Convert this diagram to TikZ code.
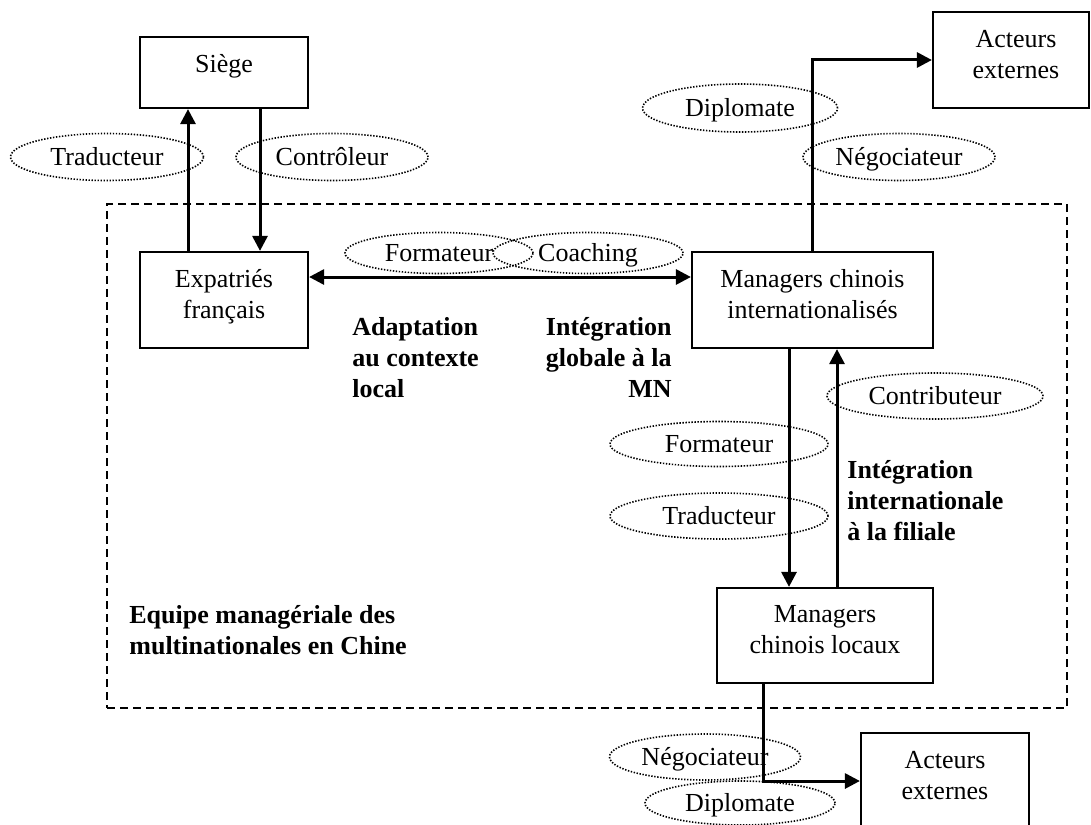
\documentclass[tikz,border=0pt]{standalone}
\usepackage{fontspec}
\setmainfont{Liberation Serif}
\usetikzlibrary{arrows.meta,shapes.geometric}
\begin{document}
\begin{tikzpicture}[x=0.5pt,y=-0.5pt,
  box/.style={draw, line width=1.1pt, inner sep=0pt, rectangle},
  boxtext/.style={anchor=north, align=center, inner sep=0pt, font=\fontsize{13pt}{15.5pt}\selectfont},
  role/.style={ellipse, draw, line width=0.8pt, dash pattern=on 0.7pt off 0.8pt, inner sep=0pt, text height=8.85pt, text depth=0pt, font=\fontsize{13pt}{15.5pt}\selectfont},
  note/.style={inner sep=0pt, font=\fontsize{13pt}{15.5pt}\selectfont\bfseries},
  arr/.style={line width=1.5pt, -{Triangle[length=7.5pt,width=7.5pt]}},
  dbl/.style={line width=1.5pt, {Triangle[length=7.5pt,width=7.5pt]}-{Triangle[length=7.5pt,width=7.5pt]}},
  team/.style={draw, line width=1.1pt, dash pattern=on 4pt off 2.5pt, inner sep=0pt}
]
\useasboundingbox (0,0) rectangle (1091,824);

% dashed team frame
\node[team, minimum width=480pt, minimum height=252pt] (team) at (587,456) {};

% boxes
\node[box, minimum width=84pt, minimum height=35.5pt] (siege) at (224,72.5) {};
\node[box, minimum width=84pt, minimum height=48pt] (expat) at (224,300) {};
\node[box, minimum width=120.5pt, minimum height=48pt] (mgr) at (812.5,300) {};
\node[box, minimum width=108pt, minimum height=47.5pt] (loc) at (825,635.5) {};
\node[box, minimum width=78pt, minimum height=48pt] (act1) at (1011,60) {};
\node[box, minimum width=84pt, minimum height=48pt] (act2) at (945,781) {};

% box texts
\node[boxtext] (siege-t) at (224,54) {Siège};
\node[boxtext] (expat-t) at (224,269) {Expatriés\\français};
\node[boxtext] (mgr-t) at (812.5,269) {Managers chinois\\internationalisés};
\node[boxtext] (loc-t) at (825,605) {Managers\\chinois locaux};
\node[boxtext] (act1-t) at (1016,30) {Acteurs\\externes};
\node[boxtext] (act2-t) at (945,751) {Acteurs\\externes};

% connectors
\draw[arr] ([xshift=-18pt]expat.north) -- ([xshift=-18pt]expat.north |- siege.south);
\draw[arr] ([xshift=18pt]siege.south) -- ([xshift=18pt]siege.south |- expat.north);
\draw[dbl] ([yshift=11.5pt]expat.east) -- ([yshift=11.5pt]expat.east -| mgr.west);
\draw[arr] (mgr.north) |- (act1.west);
\draw[arr] ([xshift=-11.75pt]mgr.south) -- ([xshift=-11.75pt]mgr.south |- loc.north);
\draw[arr] ([xshift=6pt]loc.north) -- ([xshift=6pt]loc.north |- mgr.south);
\draw[arr] ([xshift=-31pt]loc.south) |- (act2.west);

% role ellipses
\node[role, minimum width=96.5pt, minimum height=23.5pt] (trad1) at (107,157) {Traducteur};
\node[role, minimum width=96pt, minimum height=23.5pt] (ctrl) at (332,157) {Contrôleur};
\node[role, minimum width=94pt, minimum height=20.5pt] (form1) at (439,253) {Formateur};
\node[role, minimum width=95pt, minimum height=20.5pt] (coach) at (588,253) {Coaching};
\node[role, minimum width=97.5pt, minimum height=24pt] (dipl1) at (740,108) {Diplomate};
\node[role, minimum width=96pt, minimum height=23.5pt] (nego1) at (899,157) {Négociateur};
\node[role, minimum width=108pt, minimum height=23pt] (contrib) at (935,396) {Contributeur};
\node[role, minimum width=109pt, minimum height=22.5pt] (form2) at (719,444) {Formateur};
\node[role, minimum width=109pt, minimum height=23pt] (trad2) at (719,516) {Traducteur};
\node[role, minimum width=95.5pt, minimum height=23pt] (nego2) at (705,757) {Négociateur};
\node[role, minimum width=95pt, minimum height=22pt] (dipl2) at (740,803) {Diplomate};

% bold notes
\node[note, anchor=north west, align=left] (adapt) at (352,317) {Adaptation\\au contexte\\local};
\node[note, anchor=north east, align=right] (integ) at (672,317) {Intégration\\globale à la\\MN};
\node[note, anchor=north west, align=left] (integf) at (847,460) {Intégration\\internationale\\à la filiale};
\node[note, anchor=north west, align=left] (equipe) at (129,605) {Equipe managériale des\\multinationales en Chine};
\end{tikzpicture}
\end{document}
